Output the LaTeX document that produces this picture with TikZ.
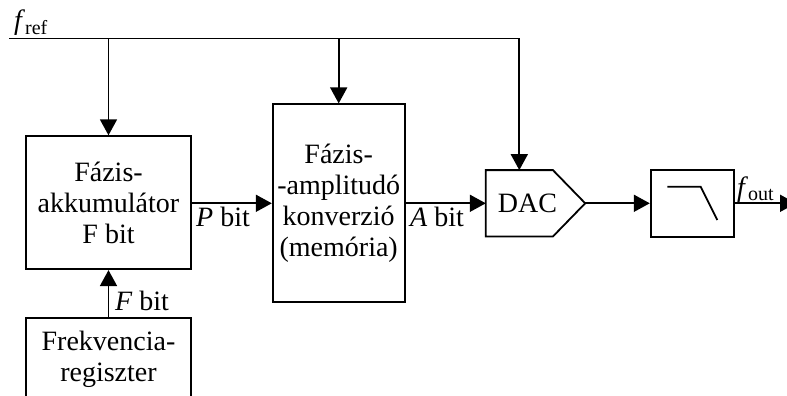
\documentclass[tikz,border=0pt]{standalone}
\usepackage{fontspec}
\setmainfont{Liberation Serif}
\usetikzlibrary{arrows.meta}
\newcommand{\sub}[1]{\raisebox{-4.5pt}{\upshape\fontsize{20}{20}\selectfont #1}}
\tikzset{
  every node/.style={font=\fontsize{28}{31}\selectfont},
  blk/.style={draw, line width=1.8pt, inner sep=0pt, align=center},
  wire/.style={line width=1.8pt},
  sig/.style={wire, -{Triangle[length=16pt,width=17pt]}},
  lbl/.style={inner sep=0pt, anchor=base west}
}
\begin{document}
\begin{tikzpicture}[x=1pt,y=-1pt]
  \useasboundingbox (0,0) rectangle (787,396);
  \clip (0,0) rectangle (787,396);

  % blocks
  \node[blk, minimum width=165pt, minimum height=133pt] (acc) at (108.5,202.7)
    {Fázis-\\akkumulátor\\F bit};
  \node[blk, minimum width=132pt, minimum height=198pt] (amp) at (338.7,203.3)
    {Fázis-\\-amplitudó\\konverzió\\(memória)};
  \node[blk, minimum width=165pt, minimum height=82pt] (freq) at (108.5,359.2)
    {Frekvencia-\\regiszter};
  \node[inner sep=0pt, minimum width=99pt, minimum height=66pt,
        label={[xshift=-8pt]center:DAC}] (dac) at (535.5,203.3) {};
  \draw[wire, line join=miter]
    (dac.north west) -- ([xshift=-32.3pt]dac.north east) -- (dac.east)
    -- ([xshift=-32.3pt]dac.south east) -- (dac.south west) -- cycle;
  \node[blk, minimum width=83.6pt, minimum height=66.7pt] (flt) at (692.5,203.3) {};
  \draw[wire] ([shift={(-25.2pt,16.6pt)}]flt.center) -- ([shift={(8.2pt,16.6pt)}]flt.center)
    -- ([shift={(24.8pt,-16.7pt)}]flt.center);

  % reference clock bus
  \coordinate (fin) at (9,38.5);
  \coordinate (fcorner) at (519.3,38.5);
  \draw[sig] (fin) -- (fcorner) -- (fcorner |- dac.north);
  \draw[sig] (acc.north |- fin) -- (acc.north);
  \draw[sig] (amp.north |- fin) -- (amp.north);
  \node[lbl] (fref) at (14,30) {\itshape f\/\sub{ref}};

  % data path
  \draw[sig] (freq.north) -- (acc.south);
  \draw[sig] (acc.east |- amp.west) -- (amp.west);
  \draw[sig] (amp.east) -- (amp.east -| dac.west);
  \draw[sig] (dac.east) -- (flt.west);
  \coordinate (fend) at (796,203.3);
  \draw[sig] (flt.east) -- (fend);

  % bus widths and signal names
  \node[lbl] (pbit) at (196,226.7) {\itshape P\upshape{} bit};
  \node[lbl] (abit) at (410,226.7) {\itshape A\upshape{} bit};
  \node[lbl] (fbit) at (115,310) {\itshape F\upshape{} bit};
  \node[lbl] (fout) at (737,196) {\itshape f\/\sub{out}};
\end{tikzpicture}
\end{document}
